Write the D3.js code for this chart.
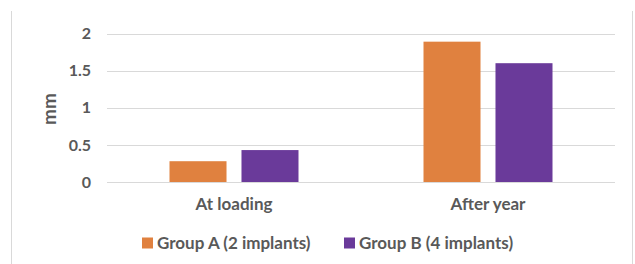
<!DOCTYPE html>
<html>
<head>
<meta charset="utf-8">
<script src="https://d3js.org/d3.v7.min.js"></script>
<style>
  body { margin: 0; background: #fff; }
  text { font-family: Lato, "Open Sans", sans-serif; font-weight: bold; fill: #595959; }
</style>
</head>
<body>
<svg width="635" height="264"></svg>
<script>
// ----- data -----
var categories = ["At loading", "After year"];
var seriesNames = ["Group A (2 implants)", "Group B (4 implants)"];
var groupA = [0.28, 1.89];
var groupB = [0.43, 1.60];
var yTicks = [0, 0.5, 1, 1.5, 2];
var colors = ["#E0813F", "#6A3A9A"];

var svg = d3.select("svg");

// frame lines at the sides
svg.append("line").attr("x1", 11.5).attr("x2", 11.5).attr("y1", 11).attr("y2", 264)
    .attr("stroke", "#d9d9d9");
svg.append("line").attr("x1", 632.5).attr("x2", 632.5).attr("y1", 11).attr("y2", 264)
    .attr("stroke", "#d9d9d9");

var x0 = d3.scaleBand().domain(categories).range([107, 615]);
var x1 = d3.scaleBand().domain([0, 1]).range([0, 129]).paddingInner(0.208);
var y = d3.scaleLinear().domain([0, 2]).range([182, 33.5]);

// grid
svg.append("g").selectAll("line")
    .data(yTicks)
  .enter().append("line")
    .attr("x1", 107).attr("x2", 615)
    .attr("y1", function(d) { return Math.round(y(d)) + 0.5; })
    .attr("y2", function(d) { return Math.round(y(d)) + 0.5; })
    .attr("stroke", "#d9d9d9");

// y axis labels
var yAxis = d3.axisLeft(y).tickValues(yTicks).tickSize(0).tickPadding(0)
    .tickFormat(function(d) { return d; });
var ya = svg.append("g").attr("transform", "translate(91,0)").call(yAxis);
ya.select(".domain").remove();
ya.selectAll("text").attr("font-size", 16).attr("font-family", null).attr("fill", null);

svg.append("text")
    .attr("transform", "translate(56,109) rotate(-90)")
    .attr("text-anchor", "middle")
    .attr("font-size", 19)
    .text("mm");

// bars
var rows = categories.map(function(c, i) { return { cat: c, vals: [groupA[i], groupB[i]] }; });
var grp = svg.append("g").selectAll("g")
    .data(rows)
  .enter().append("g")
    .attr("transform", function(d) { return "translate(" + (x0(d.cat) + x0.bandwidth() / 2 - 64.5) + ",0)"; });
grp.selectAll("rect")
    .data(function(d) { return d.vals; })
  .enter().append("rect")
    .attr("x", function(d, i) { return x1(i); })
    .attr("width", x1.bandwidth())
    .attr("y", function(d) { return y(d); })
    .attr("height", function(d) { return y(0) - y(d); })
    .attr("fill", function(d, i) { return colors[i]; });

// category labels
var xAxis = d3.axisBottom(x0).tickSize(0).tickPadding(0);
var xa = svg.append("g").attr("transform", "translate(0,198)").call(xAxis);
xa.select(".domain").remove();
xa.selectAll("text").attr("font-size", 17).attr("font-family", null).attr("fill", null);

// legend
var legX = [142, 344];
var leg = svg.append("g").selectAll("g")
    .data(seriesNames)
  .enter().append("g")
    .attr("transform", function(d, i) { return "translate(" + legX[i] + ",243)"; });
leg.append("rect").attr("x", 0).attr("y", -5.5).attr("width", 11).attr("height", 11)
    .attr("fill", function(d, i) { return colors[i]; });
leg.append("text").attr("x", 15).attr("dy", "0.35em").attr("font-size", 17)
    .text(function(d) { return d; });
</script>
</body>
</html>
